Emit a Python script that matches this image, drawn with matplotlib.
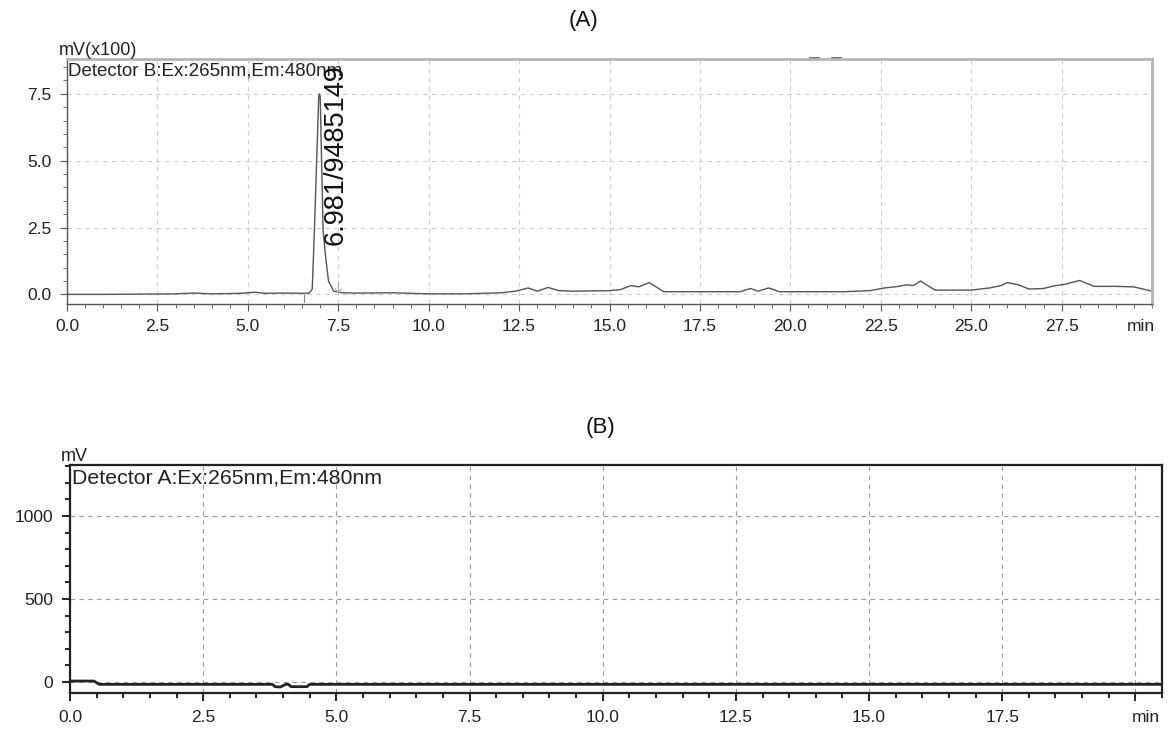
import matplotlib
matplotlib.use("Agg")
import matplotlib.pyplot as plt
from matplotlib.ticker import MultipleLocator, FixedLocator

plt.rcParams['font.family'] = ['Liberation Sans', 'DejaVu Sans']

# Detector B trace, mV(x100) vs retention time (min)
time_a = [0.0, 1.0, 2.0, 3.0, 3.5, 4.0, 4.8, 5.2, 5.5, 6.0, 6.5, 6.7,
          6.78, 6.84, 6.90, 6.96, 6.98, 7.00, 7.04, 7.08, 7.15, 7.23, 7.37, 7.6,
          8.0, 9.0, 10.0, 11.0, 12.0, 12.4, 12.75, 13.0, 13.3, 13.6, 14.0, 15.0,
          15.3, 15.6, 15.8, 16.1, 16.5, 17.0, 18.0, 18.6, 18.9, 19.1, 19.4, 19.7,
          20.5, 21.5, 22.2, 22.6, 23.0, 23.2, 23.4, 23.6, 24.0, 25.0, 25.5, 25.8,
          26.0, 26.3, 26.6, 27.0, 27.3, 27.6, 28.0, 28.4, 29.0, 29.5, 30.0]
signal_a = [0.0, 0.0, 0.01, 0.02, 0.05, 0.02, 0.04, 0.08, 0.04, 0.05, 0.04, 0.05,
            0.2, 2.4, 4.9, 7.4, 7.5, 7.4, 4.9, 2.4, 1.4, 0.5, 0.12, 0.06,
            0.05, 0.06, 0.02, 0.02, 0.06, 0.12, 0.24, 0.12, 0.26, 0.14, 0.12, 0.14,
            0.18, 0.33, 0.28, 0.44, 0.1, 0.1, 0.1, 0.1, 0.22, 0.12, 0.24, 0.1,
            0.1, 0.1, 0.14, 0.24, 0.3, 0.36, 0.33, 0.5, 0.16, 0.16, 0.24, 0.32,
            0.44, 0.36, 0.2, 0.22, 0.32, 0.38, 0.52, 0.3, 0.3, 0.28, 0.12]

# Detector A trace, mV vs retention time (min)
time_b = [0.0, 0.45, 0.55, 3.8, 3.85, 3.95, 4.05, 4.1, 4.15, 4.45, 4.5, 20.5]
signal_b = [6, 6, -14, -14, -28, -30, -14, -14, -28, -28, -14, -14]

peak_rt = 6.981
peak_area = 9485149

fig = plt.figure(figsize=(11.68, 7.31), dpi=100)
ax_a = fig.add_axes([0.0574, 0.5841, 0.9289, 0.3352])
ax_b = fig.add_axes([0.0599, 0.0520, 0.9350, 0.3119])

tick_font = dict(fontsize=12.5, color='#222222')

# ---- panel A
ax_a.plot(time_a, signal_a, color='#555555', lw=1.0)
ax_a.set_xlim(0, 30)
ax_a.set_ylim(-0.36, 8.8)
xt = [i * 2.5 for i in range(12)]
ax_a.set_xticks(xt)
ax_a.set_xticklabels([f'{v:.1f}' for v in xt], **tick_font)
ax_a.xaxis.set_minor_locator(MultipleLocator(0.5))
ax_a.yaxis.set_major_locator(FixedLocator([0, 2.5, 5.0, 7.5]))
ax_a.yaxis.set_minor_locator(MultipleLocator(0.5))
ax_a.set_yticklabels(['0.0', '2.5', '5.0', '7.5'], **tick_font)
ax_a.grid(True, which='major', color='#cccccc', ls=(0, (4, 4)), lw=0.8)
for side in ['left', 'bottom']:
    ax_a.spines[side].set_color('#555555')
    ax_a.spines[side].set_linewidth(1.0)
for side in ['top', 'right']:
    ax_a.spines[side].set_color('#b5b5b5')
    ax_a.spines[side].set_linewidth(2.0)
ax_a.tick_params(which='major', direction='out', length=5, color='#555555', pad=6)
ax_a.tick_params(which='minor', direction='out', length=3, color='#555555')
ax_a.annotate('min', xy=(29.7, 0), xycoords=('data', 'axes fraction'),
              xytext=(0, -11), textcoords='offset points', ha='center', va='top',
              **tick_font)
ax_a.text(-0.008, 1.0, 'mV(x100)', transform=ax_a.transAxes, ha='left',
          va='bottom', fontsize=13, color='#222222')
ax_a.text(0.001, 0.985, 'Detector B:Ex:265nm,Em:480nm', transform=ax_a.transAxes,
          ha='left', va='top', fontsize=13.5, color='#222222')

# integration markers at peak start / end
ax_a.plot([6.55, 6.55], [-0.3, 0.05], color='#888888', lw=0.8)
ax_a.plot([7.5, 7.5], [0.05, 0.45], color='#aaaaaa', lw=0.8)
ax_a.plot([7.42, 7.5, 7.58], [0.2, 0.06, 0.2], color='#aaaaaa', lw=0.8)
ax_a.text(7.42, 1.85, f'{peak_rt}/{peak_area}', rotation=90, ha='center',
          va='bottom', fontsize=19.5, color='#111111')

# event markers above the frame
for t0 in [20.55, 21.15]:
    ax_a.plot([t0, t0 + 0.25], [8.85, 8.85], color='#555555', lw=1.2, clip_on=False)

fig.text(0.5, 0.972, '(A)', ha='center', va='center', fontsize=16, color='#111111')

# ---- panel B
ax_b.plot(time_b, signal_b, color='#222222', lw=2.0)
ax_b.set_xlim(0, 20.5)
ax_b.set_ylim(-66, 1307)
xt_b = [i * 2.5 for i in range(9)]
ax_b.set_xticks(xt_b)
ax_b.set_xticklabels([f'{v:.1f}' for v in xt_b[:-1]] + [''], **tick_font)
ax_b.xaxis.set_minor_locator(MultipleLocator(0.5))
ax_b.set_yticks([0, 500, 1000])
ax_b.set_yticklabels(['0', '500', '1000'], **tick_font)
ax_b.yaxis.set_minor_locator(MultipleLocator(100))
ax_b.grid(True, which='major', color='#999999', ls=(0, (4, 4)), lw=0.8)
for side in ax_b.spines.values():
    side.set_color('#222222')
    side.set_linewidth(1.6)
ax_b.tick_params(which='major', direction='out', length=6, width=1.4, color='#222222', pad=6)
ax_b.tick_params(which='minor', direction='out', length=3.5, width=1.4, color='#222222')
ax_b.annotate('min', xy=(20.2, 0), xycoords=('data', 'axes fraction'),
              xytext=(0, -12), textcoords='offset points', ha='center', va='top',
              **tick_font)
ax_b.text(-0.008, 1.0, 'mV', transform=ax_b.transAxes, ha='left',
          va='bottom', fontsize=13, color='#222222')
ax_b.text(0.002, 0.985, 'Detector A:Ex:265nm,Em:480nm', transform=ax_b.transAxes,
          ha='left', va='top', fontsize=15.3, color='#222222')

fig.text(0.514, 0.415, '(B)', ha='center', va='center', fontsize=16, color='#111111')

fig.savefig('out.png', dpi=100, facecolor='white')
